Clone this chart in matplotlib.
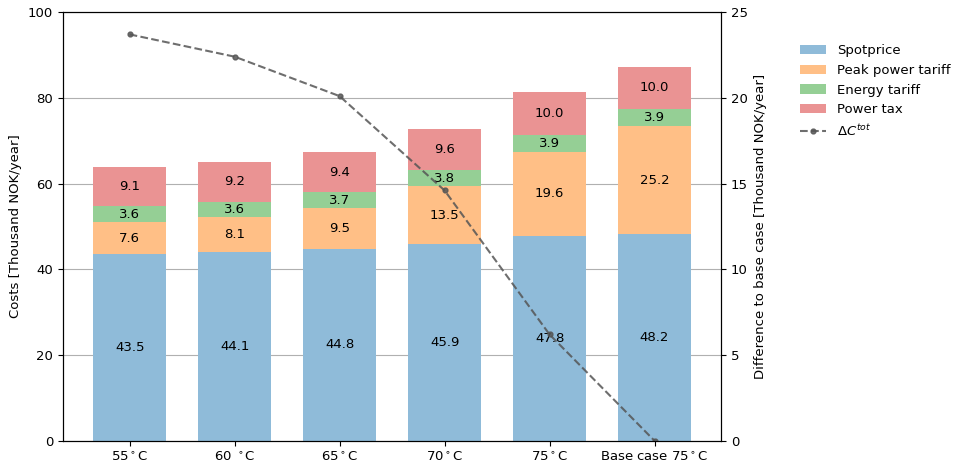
import numpy as np
import matplotlib
matplotlib.use("Agg")
import matplotlib.pyplot as plt

plt.rcParams["font.size"] = 9.5

# data
cases = ["55$^\\circ$C", "60 $^\\circ$C", "65$^\\circ$C", "70$^\\circ$C", "75$^\\circ$C", "Base case 75$^\\circ$C"]
spotprice = [43.5, 44.1, 44.8, 45.9, 47.8, 48.2]
peak_tariff = [7.6, 8.1, 9.5, 13.5, 19.6, 25.2]
energy_tariff = [3.6, 3.6, 3.7, 3.8, 3.9, 3.9]
power_tax = [9.1, 9.2, 9.4, 9.6, 10.0, 10.0]
delta_tot = [23.7, 22.4, 20.1, 14.6, 6.2, 0.0]

# tab colours at half strength, drawn opaque so the grid stays behind
components = [
    ("Spotprice", spotprice, "#8fbbd9"),
    ("Peak power tariff", peak_tariff, "#ffbf86"),
    ("Energy tariff", energy_tariff, "#95cf95"),
    ("Power tax", power_tax, "#ea9393"),
]

fig, ax = plt.subplots(figsize=(9.54, 4.65), dpi=100)
fig.subplots_adjust(left=0.066, right=0.756, top=0.974, bottom=0.052)

x = np.arange(len(cases))
bottom = np.zeros(len(cases))
handles = []
for name, vals, col in components:
    vals = np.array(vals)
    b = ax.bar(x, vals, 0.7, bottom=bottom, color=col, label=name, zorder=2)
    handles.append(b)
    for xi, bi, vi in zip(x, bottom, vals):
        ax.text(xi, bi + vi / 2, f"{vi:.1f}", ha="center", va="center", zorder=5)
    bottom += vals

ax.set_ylim(0, 100)
ax.set_ylabel("Costs [Thousand NOK/year]")
ax.set_xticks(x)
ax.set_xticklabels(cases)
ax.yaxis.grid(True, color="#b0b0b0", linewidth=0.8, zorder=0)
ax.set_axisbelow(True)

ax2 = ax.twinx()
line, = ax2.plot(x, delta_tot, "--", color="#555555", alpha=0.85, marker="o", markersize=3.5,
                 linewidth=1.5, label="$\\Delta C^{tot}$")
ax2.set_ylim(0, 25)
ax2.set_ylabel("Difference to base case [Thousand NOK/year]")

fig.legend(handles + [line], [h.get_label() for h in handles] + [line.get_label()],
           loc="upper left", bbox_to_anchor=(0.826, 0.93), frameon=False)

fig.savefig("out.png", dpi=100)
